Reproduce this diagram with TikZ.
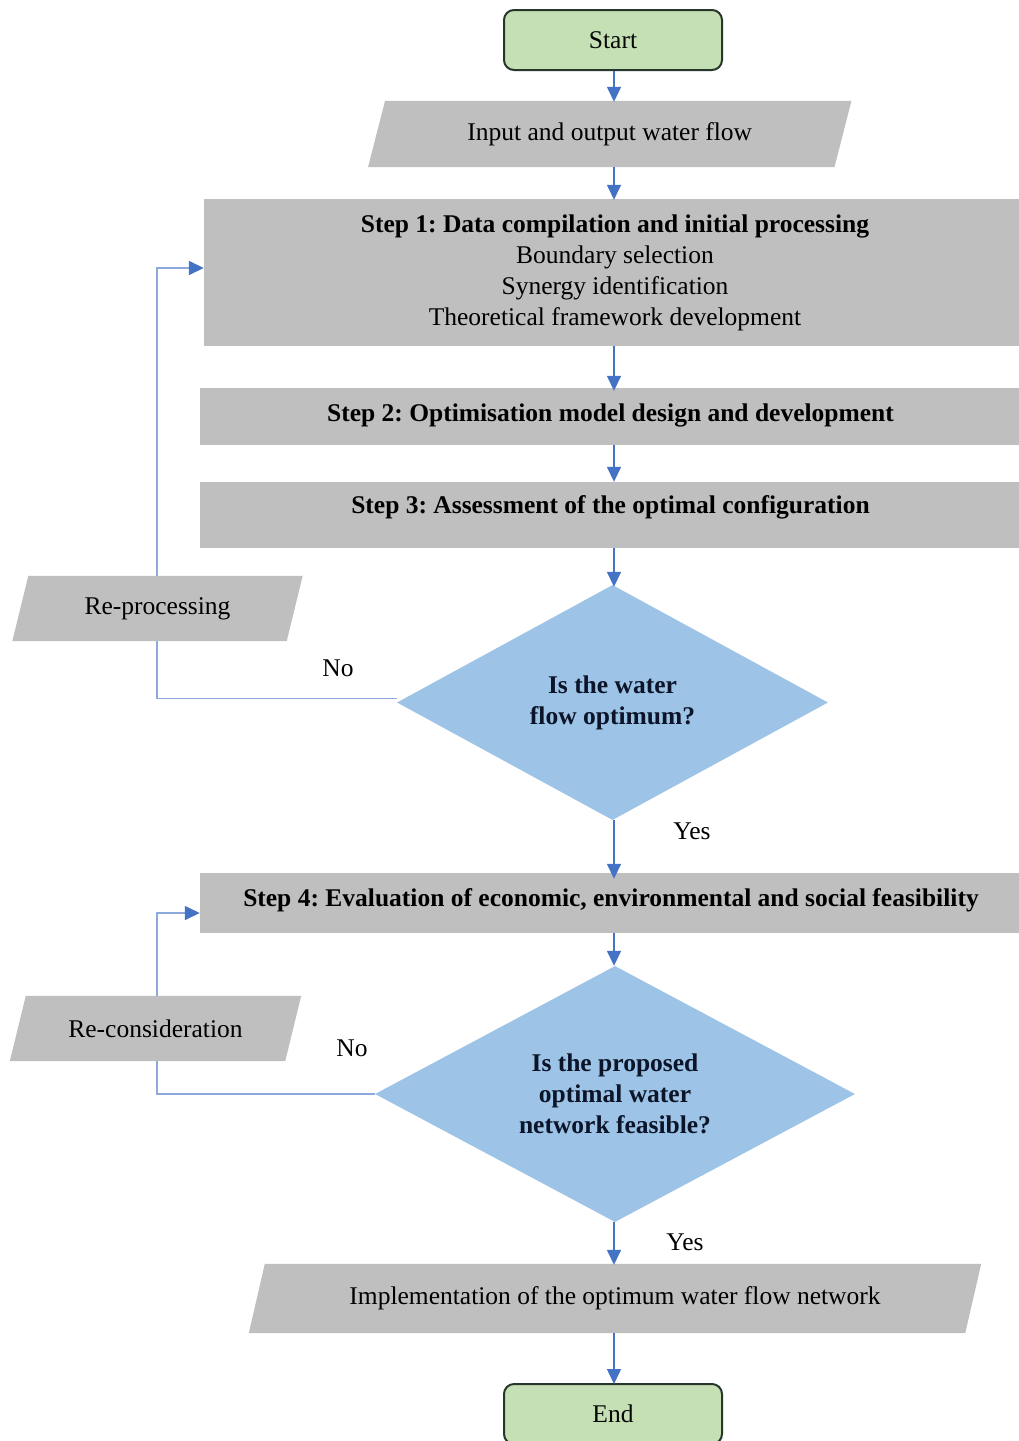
\documentclass[tikz,border=0pt]{standalone}
\usepackage{fontspec}
\setmainfont{Liberation Serif}
\usetikzlibrary{shapes.geometric,arrows.meta,backgrounds}
\frenchspacing

\definecolor{boxgray}{HTML}{BFBFBF}
\definecolor{decblue}{HTML}{9DC3E6}
\definecolor{termgreen}{HTML}{C5E0B4}
\definecolor{termedge}{HTML}{27362A}
\definecolor{flowblue}{HTML}{4472C4}
\definecolor{loopblue}{HTML}{8EA9DB}
\definecolor{decText}{HTML}{0B1428}

% slanted (parallelogram) fill behind a rectangular node
\newcommand\slantfill[2]{%
  \fill[boxgray] ([xshift=#2]#1.north west) -- ([xshift=#2]#1.north east)
    -- ([xshift=-#2]#1.south east) -- ([xshift=-#2]#1.south west) -- cycle;}

\tikzset{
  txt/.style={font=\fontsize{25.5}{31}\selectfont, text=black, inner sep=0},
  terminal/.style={txt, rectangle, rounded corners=10, draw=termedge, line width=2,
    fill=termgreen, minimum width=218, minimum height=60, text=black!85!termedge},
  stepbox/.style={rectangle, fill=boxgray, align=center, inner sep=0, text=black,
    font=\fontsize{25.5}{31}\selectfont\bfseries},
  iobox/.style={txt, rectangle, align=center},
  decision/.style={diamond, fill=decblue, inner sep=0, align=center, text=decText,
    font=\fontsize{25.5}{31}\selectfont\bfseries},
  tip/.style={-{Triangle[width=14pt,length=15pt,color=flowblue]}},
  flow/.style={draw=flowblue, line width=1.5pt, tip},
  loop/.style={draw=loopblue, line width=1.5pt, tip},
}

\begin{document}
\begin{tikzpicture}[x=1pt,y=-1pt]
\useasboundingbox (0,0) rectangle (1019,1441);
\clip (0,0) rectangle (1019,1441);

\coordinate (axis) at (614,0);

% terminals
\node[terminal] (start) at (613,40) {Start};
\node[terminal] (end) at (613,1414) {End};

% input / output boxes
\node[iobox, minimum width=466, minimum height=66] (inflow) at (609.75,134) {Input and output water flow};
\node[iobox, minimum width=274, minimum height=65] (repro) at (157.5,608.5) {Re-processing};
\node[iobox, minimum width=275, minimum height=65] (recon) at (155.5,1028.5) {Re-consideration};
\node[iobox, minimum width=716, minimum height=69] (impl) at (615,1298.5) {Implementation of the optimum water flow network};

% process steps
\node[stepbox, minimum width=822, minimum height=147] (step1) at (615,272.5)
  {Step 1: Data compilation and initial processing\\
   \mdseries Boundary selection\\
   \mdseries Synergy identification\\
   \mdseries Theoretical framework development};
\node[stepbox, minimum width=821, minimum height=57, text height=17, text depth=8] (step2) at (610.5,416.5)
  {Step 2: Optimisation model design and development};
\node[stepbox, minimum width=821, minimum height=66, text height=17, text depth=20] (step3) at (610.5,515)
  {Step 3: Assessment of the optimal configuration};
\node[stepbox, minimum width=822, minimum height=60, text height=17, text depth=10] (step4) at (611,903)
  {Step 4: Evaluation of economic, environmental and social feasibility};

% decisions
\node[decision, aspect=1.834, minimum width=431, minimum height=235] (d1) at (612.5,702.5)
  {Is the water\\flow optimum?};
\node[decision, aspect=1.875, minimum width=480, minimum height=256] (d2) at (615,1094)
  {Is the proposed\\optimal water\\network feasible?};

% branch labels
\node[txt] (no1) at (338,668) {No};
\node[txt] (yes1) at (692,831) {Yes};
\node[txt] (no2) at (352,1048) {No};
\node[txt] (yes2) at (685,1242) {Yes};

% main flow
\draw[flow] (start.south -| axis) -- ([yshift=-1]inflow.north -| axis);
\draw[flow] (inflow.south -| axis) -- ([yshift=-1]step1.north -| axis);
\draw[flow] (step1.south -| axis) -- ([yshift=-3]step2.north -| axis);
\draw[flow] (step2.south -| axis) -- (step3.north -| axis);
\draw[flow] (step3.south -| axis) -- ([yshift=-2]d1.north -| axis);
\draw[flow] (d1.south -| axis) -- ([yshift=-6]step4.north -| axis);
\draw[flow] (step4.south -| axis) -- (d2.north -| axis);
\draw[flow] (d2.south -| axis) -- ([yshift=-1]impl.north -| axis);
\draw[flow] (impl.south -| axis) -- ([yshift=-1]end.north -| axis);

% feedback loops and slanted boxes underneath the text
\coordinate (fb1) at (157,268);
\coordinate (fb2) at (157,913);
\begin{scope}[on background layer]
  \fill[white] (0,0) rectangle (1019,1441);
  \draw[loop] ([yshift=4]d1.west) -| (fb1) -- (step1.west |- fb1);
  \draw[loop] (d2.west) -| (fb2) -- (step4.west |- fb2);
  \slantfill{inflow}{8.5}
  \slantfill{repro}{8}
  \slantfill{recon}{8}
  \slantfill{impl}{8}
\end{scope}
\end{tikzpicture}
\end{document}
